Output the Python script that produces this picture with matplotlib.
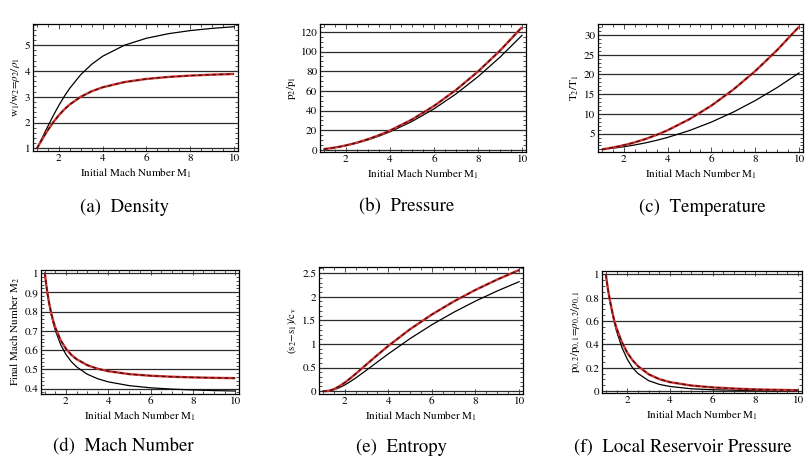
import matplotlib
matplotlib.use("Agg")
import matplotlib.pyplot as plt
from matplotlib.ticker import MultipleLocator, FuncFormatter

plt.rcParams['font.family'] = ['STIXGeneral', 'DejaVu Serif']
plt.rcParams['mathtext.fontset'] = 'stix'

# ---------------- data ----------------
mach = [1, 1.1, 1.2, 1.3, 1.4, 1.5, 1.75, 2, 2.25, 2.5, 3, 3.5, 4, 5, 6, 7, 8, 9, 10]

density_black = [1, 1.169, 1.342, 1.516, 1.690, 1.862, 2.279, 2.667, 3.019, 3.333, 3.857,
                 4.261, 4.571, 5.0, 5.268, 5.444, 5.565, 5.651, 5.714]
density_red = [1, 1.150, 1.297, 1.441, 1.581, 1.714, 2.021, 2.286, 2.512, 2.703, 3.0,
               3.213, 3.368, 3.571, 3.692, 3.769, 3.821, 3.857, 3.884]

pressure_black = [1, 1.245, 1.513, 1.805, 2.12, 2.458, 3.406, 4.5, 5.74, 7.125, 10.33,
                  14.13, 18.5, 29.0, 41.83, 57.0, 74.5, 94.33, 116.5]
pressure_red = [1, 1.263, 1.55, 1.863, 2.2, 2.563, 3.578, 4.75, 6.078, 7.563, 11.0,
                15.06, 19.75, 31.0, 44.75, 61.0, 79.75, 101.0, 124.75]

temperature_black = [1, 1.065, 1.128, 1.191, 1.254, 1.320, 1.495, 1.687, 1.901, 2.138, 2.679,
                     3.315, 4.047, 5.8, 7.941, 10.47, 13.39, 16.69, 20.39]
temperature_red = [1, 1.098, 1.195, 1.292, 1.392, 1.495, 1.771, 2.078, 2.420, 2.798, 3.667,
                   4.688, 5.863, 8.68, 12.12, 16.18, 20.87, 26.19, 32.12]

mach2_black = [1, 0.9118, 0.8422, 0.7860, 0.7397, 0.7011, 0.6281, 0.5774, 0.5406, 0.5130, 0.4752,
               0.4512, 0.4350, 0.4152, 0.4042, 0.3974, 0.3929, 0.3898, 0.3876]
mach2_red = [1, 0.9131, 0.8463, 0.7934, 0.7508, 0.7157, 0.6508, 0.6070, 0.5759, 0.5530, 0.5222,
             0.5031, 0.4904, 0.4752, 0.4668, 0.4616, 0.4583, 0.4560, 0.4543]

entropy_black = [0, 0.0004, 0.0029, 0.0083, 0.0171, 0.0291, 0.0723, 0.1309, 0.2012, 0.2780, 0.4456,
                 0.6186, 0.7899, 1.114, 1.407, 1.671, 1.908, 2.123, 2.318]
entropy_red = [0, 0.0008, 0.0044, 0.0126, 0.0254, 0.0427, 0.1025, 0.1803, 0.2698, 0.3661, 0.5669,
               0.7668, 0.9591, 1.3124, 1.624, 1.899, 2.145, 2.365, 2.565]

reservoir_black = [1, 0.87, 0.76, 0.67, 0.585, 0.515, 0.375, 0.275, 0.2, 0.152, 0.09,
                   0.058, 0.04, 0.02, 0.012, 0.008, 0.005, 0.003, 0.002]
reservoir_red = [1, 0.87, 0.77, 0.68, 0.60, 0.54, 0.42, 0.33, 0.265, 0.215, 0.145,
                 0.103, 0.077, 0.048, 0.032, 0.022, 0.015, 0.011, 0.008]

x_label = 'Initial Mach Number M$_1$'

panels = [
    dict(black=density_black, red=density_red, ylabel=r'w$_1$/w$_2$=$\rho_2$/$\rho_1$',
         ylim=(0.9, 5.82), major=1, minor=0.2, caption='(a)  Density'),
    dict(black=pressure_black, red=pressure_red, ylabel='p$_2$/p$_1$',
         ylim=(-2.0, 128.0), major=20, minor=5, caption='(b)  Pressure'),
    dict(black=temperature_black, red=temperature_red, ylabel='T$_2$/T$_1$',
         ylim=(0.35, 32.8), major=5, minor=1, caption='(c)  Temperature'),
    dict(black=mach2_black, red=mach2_red, ylabel='Final Mach Number M$_2$',
         ylim=(0.372, 1.016), major=0.1, minor=0.02, caption='(d)  Mach Number'),
    dict(black=entropy_black, red=entropy_red, ylabel='(s$_2$−s$_1$)/c$_\\mathrm{v}$',
         ylim=(-0.06, 2.63), major=0.5, minor=0.1, caption='(e)  Entropy'),
    dict(black=reservoir_black, red=reservoir_red,
         ylabel=r'p$_{0,2}$/p$_{0,1}$=$\rho_{0,2}$/$\rho_{0,1}$',
         ylim=(-0.016, 1.03), major=0.2, minor=0.05, caption='(f)  Local Reservoir Pressure'),
]

# axes boxes in pixels: left, right, top, bottom
boxes = [(33, 238, 24, 151), (320, 526, 24, 152), (598, 803, 24, 152),
         (41, 239, 270, 394), (319, 523, 267, 394), (602, 802, 271, 393)]
captions_xy = [(125, 207), (407, 207), (702, 207), (123, 447), (401, 447), (683, 447)]

W, H = 812, 462
fig = plt.figure(figsize=(W / 100, H / 100), dpi=100)


def fmt(v, pos):
    s = ('%.2f' % v).rstrip('0').rstrip('.')
    return '0' if s in ('-0', '') else s


for p, (l, r, t, b), (cx, cy) in zip(panels, boxes, captions_xy):
    ax = fig.add_axes([l / W, 1 - b / H, (r - l) / W, (b - t) / H])
    ax.set_xlim(0.82, 10.18)
    ax.set_ylim(*p['ylim'])
    ax.yaxis.set_major_locator(MultipleLocator(p['major']))
    ax.yaxis.set_minor_locator(MultipleLocator(p['minor']))
    ax.xaxis.set_major_locator(MultipleLocator(2))
    ax.xaxis.set_minor_locator(MultipleLocator(0.5))
    ax.yaxis.set_major_formatter(FuncFormatter(fmt))
    ax.xaxis.set_major_formatter(FuncFormatter(fmt))
    ax.grid(True, axis='y', which='major', color='#2a2a2a', lw=0.9)
    ax.set_axisbelow(True)
    ax.tick_params(which='both', direction='in', top=True, right=True,
                   labelsize=8, pad=2, width=0.6, color='#333333')
    ax.tick_params(which='major', length=3.5)
    ax.tick_params(which='minor', length=2)
    for sp in ax.spines.values():
        sp.set_linewidth(0.9)
    ax.plot(mach, p['black'], color='black', lw=0.9, zorder=3)
    ax.plot(mach, p['red'], color='#d03333', lw=1.7, zorder=4, solid_capstyle='butt')
    ax.plot(mach, p['red'], color='#400a0a', lw=0.9, dashes=(3.2, 2.4), zorder=5)
    ax.set_xlabel(x_label, fontsize=8, labelpad=2)
    ax.set_ylabel(p['ylabel'], fontsize=8, labelpad=2)
    fig.text(cx / W, 1 - cy / H, p['caption'], fontsize=13.5, ha='center', va='center')

fig.savefig('out.png', dpi=100)
